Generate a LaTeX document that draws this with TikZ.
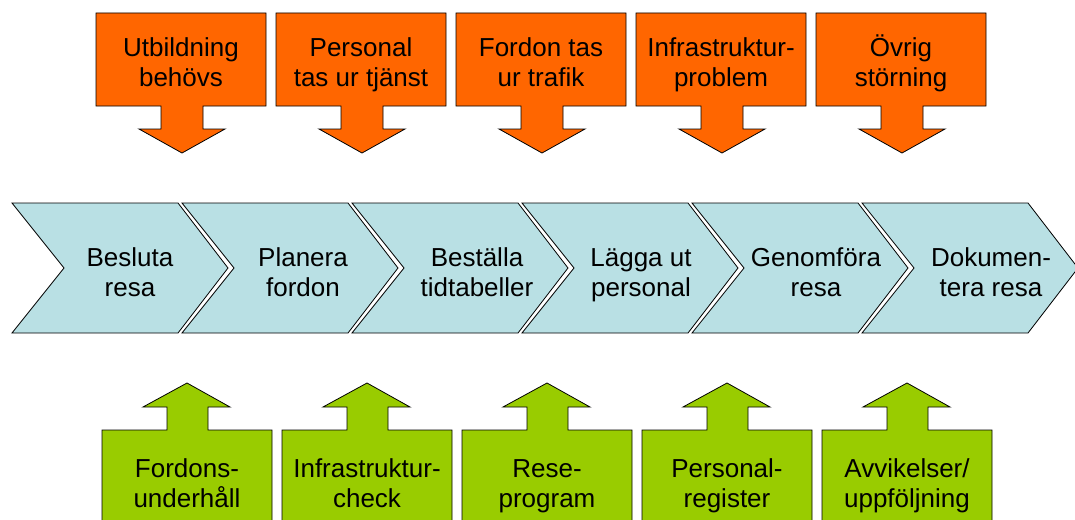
\documentclass[tikz,border=0pt]{standalone}
\usepackage{fontspec}
\setmainfont{Liberation Sans}
\usetikzlibrary{positioning}

\definecolor{orangefill}{RGB}{255,102,0}
\definecolor{stepfill}{RGB}{185,224,228}
\definecolor{greenfill}{RGB}{153,204,0}

\begin{document}
\begin{tikzpicture}[x=1pt, y=-1pt, line width=0.8pt, line join=miter,
   lbl/.style={align=center, font=\fontsize{26}{30}\selectfont, inner sep=0pt, anchor=base},
   downbox/.pic={\draw[fill=orangefill] (0,13) -- (170,13) -- (170,106) -- (107,106) -- (107,129) -- (129,129) -- (86,153) -- (43,129) -- (65,129) -- (65,106) -- (0,106) -- cycle;},
   upbox/.pic={\draw[fill=greenfill] (0,545) -- (0,430) -- (65,430) -- (65,407) -- (41,407) -- (85,383) -- (128,407) -- (106,407) -- (106,430) -- (170,430) -- (170,545);},
   chevron/.pic={\draw[fill=stepfill] (0,203) -- (166,203) -- (216,268) -- (166,333) -- (0,333) -- (52,268) -- cycle;}]
   \useasboundingbox (0,0) rectangle (1075,519);
   \clip (0,0) rectangle (1075,519);

   %disturbances
   \pic at (96,0) {downbox};
   \pic at (276,0) {downbox};
   \pic at (456,0) {downbox};
   \pic at (636,0) {downbox};
   \pic at (816,0) {downbox};
   \node[lbl] (utb) at (181,86) {Utbildning\\behövs};
   \node[lbl] (pers) at (361,86) {Personal\\tas ur tjänst};
   \node[lbl] (fordon) at (541,86) {Fordon tas\\ur trafik};
   \node[lbl] (infra) at (721,86) {Infrastruktur-\\problem};
   \node[lbl] (ovrig) at (901,86) {Övrig\\störning};

   %process steps
   \pic at (12,0) {chevron};
   \pic at (182,0) {chevron};
   \pic at (352,0) {chevron};
   \pic at (522,0) {chevron};
   \pic at (692,0) {chevron};
   \pic at (862,0) {chevron};
   \node[lbl] (besluta) at (130,296) {Besluta\\resa};
   \node[lbl] (planera) at (303,296) {Planera\\fordon};
   \node[lbl] (bestalla) at (477,296) {Beställa\\tidtabeller};
   \node[lbl] (lagga) at (641,296) {Lägga ut\\personal};
   \node[lbl] (genomfora) at (816,296) {Genomföra\\resa};
   \node[lbl] (dokumentera) at (991,296) {Dokumen-\\tera resa};

   %support
   \pic at (102,0) {upbox};
   \pic at (282,0) {upbox};
   \pic at (462,0) {upbox};
   \pic at (642,0) {upbox};
   \pic at (822,0) {upbox};
   \node[lbl] (underhall) at (187,507) {Fordons-\\underhåll};
   \node[lbl] (check) at (367,507) {Infrastruktur-\\check};
   \node[lbl] (program) at (547,507) {Rese-\\program};
   \node[lbl] (register) at (727,507) {Personal-\\register};
   \node[lbl] (uppfolj) at (907,507) {Avvikelser/\\uppföljning};
\end{tikzpicture}
\end{document}
